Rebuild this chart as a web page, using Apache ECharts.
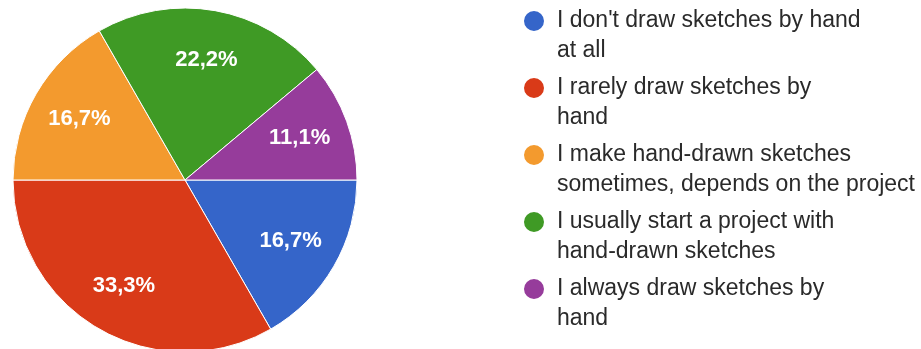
<!DOCTYPE html>
<html>
<head>
<meta charset="utf-8">
<script src="https://cdn.jsdelivr.net/npm/echarts@6/dist/echarts.min.js"></script>
<style>
  html, body { margin: 0; padding: 0; background: #fff; }
  #chart { width: 921px; height: 349px; }
</style>
</head>
<body>
<div id="chart"></div>
<script>
// answers, in the order the slices go clockwise from 3 o'clock
const answers = [
  "I don't draw sketches by hand at all",
  'I rarely draw sketches by hand',
  'I make hand-drawn sketches sometimes, depends on the project',
  'I usually start a project with hand-drawn sketches',
  'I always draw sketches by hand'
]
// how the legend wraps them
const legendLines = [
  "I don't draw sketches by hand\nat all",
  'I rarely draw sketches by\nhand',
  'I make hand-drawn sketches\nsometimes, depends on the project',
  'I usually start a project with\nhand-drawn sketches',
  'I always draw sketches by\nhand'
]
const shares = [16.7, 33.3, 16.7, 22.2, 11.1]
const colors = ['#3565c9', '#d93a18', '#f39a2e', '#3f9a25', '#963c9b']

const font = '"Liberation Sans", Arial, Helvetica, sans-serif'
const chart = echarts.init(document.getElementById('chart'), null, {renderer: 'canvas'})

let pieData = answers.map((name, i) => ({
  name: name,
  value: shares[i],
  itemStyle: {color: colors[i]}
}))

chart.setOption({
  animation: false,
  legend: {
    orient: 'vertical',
    left: 522,
    top: -24,
    padding: 0,
    itemGap: -23,
    itemWidth: 22,
    itemHeight: 22,
    icon: 'circle',
    data: answers,
    // empty first line so the icon sits next to the first real line
    formatter: function (name) {
      return '\n' + legendLines[answers.indexOf(name)]
    },
    textStyle: {
      fontFamily: font,
      fontSize: 23,
      lineHeight: 30,
      color: '#2a2a2a',
      padding: [0, 0, 0, 7]
    }
  },
  series: [
    {
      type: 'pie',
      center: [185, 180],
      radius: [0, 172],
      startAngle: 0,
      clockwise: true,
      label: {show: false},
      labelLine: {show: false},
      itemStyle: {borderColor: '#fff', borderWidth: 1},
      data: pieData
    },
    {
      // transparent ring, only used to place the percent labels further out
      type: 'pie',
      silent: true,
      center: [185, 180],
      radius: [66, 172],
      startAngle: 0,
      clockwise: true,
      itemStyle: {color: 'rgba(0,0,0,0)'},
      label: {
        show: true,
        position: 'inside',
        color: '#fff',
        fontFamily: font,
        fontWeight: 'bold',
        fontSize: 22,
        formatter: function (p) {
          return p.value.toFixed(1).replace('.', ',') + '%'
        }
      },
      labelLine: {show: false},
      data: answers.map((name, i) => ({name: name, value: shares[i]}))
    }
  ]
})
</script>
</body>
</html>
